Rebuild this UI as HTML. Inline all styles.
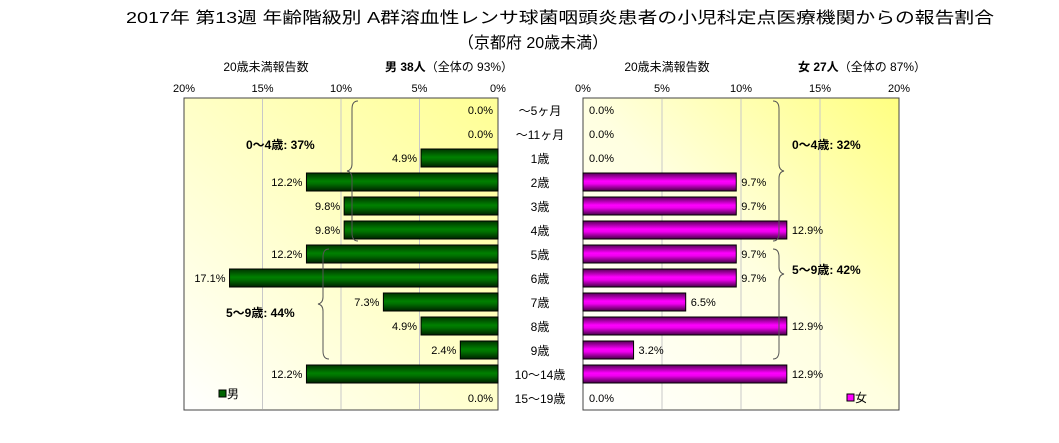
<!DOCTYPE html>
<html><head><meta charset="utf-8"><style>
body{margin:0;background:#fff}
svg{display:block;font-family:"Liberation Sans","Noto Sans CJK JP",sans-serif}
</style></head><body>
<svg id="c" width="1059" height="443" viewBox="0 0 1059 443">
<defs>
<linearGradient id="bgL" x1="0" y1="1" x2="0.9" y2="0"><stop offset="0" stop-color="#ffffff"/><stop offset="1" stop-color="#ffff99"/></linearGradient>
<linearGradient id="bgR" x1="0" y1="1" x2="1" y2="0"><stop offset="0" stop-color="#ffffff"/><stop offset="0.5" stop-color="#ffffe0"/><stop offset="1" stop-color="#ffff80"/></linearGradient>
<linearGradient id="gM" x1="0" y1="0" x2="0" y2="1"><stop offset="0" stop-color="#003300"/><stop offset="0.45" stop-color="#008000"/><stop offset="0.6" stop-color="#007000"/><stop offset="1" stop-color="#002200"/></linearGradient>
<linearGradient id="gF" x1="0" y1="0" x2="0" y2="1"><stop offset="0" stop-color="#550055"/><stop offset="0.45" stop-color="#ff00ff"/><stop offset="0.6" stop-color="#ee00ee"/><stop offset="1" stop-color="#440044"/></linearGradient>
</defs>
<text x="560" y="23" text-anchor="middle" font-size="16" textLength="868" lengthAdjust="spacingAndGlyphs">2017年 第13週 年齢階級別 A群溶血性レンサ球菌咽頭炎患者の小児科定点医療機関からの報告割合</text>
<text x="533" y="48" text-anchor="middle" font-size="16">（京都府 20歳未満）</text>
<text x="266" y="71" text-anchor="middle" font-size="12">20歳未満報告数</text>
<text x="385" y="71" font-size="12"><tspan font-weight="bold">男 38人</tspan>（全体の 93%）</text>
<text x="667" y="71" text-anchor="middle" font-size="12">20歳未満報告数</text>
<text x="798" y="71" font-size="12"><tspan font-weight="bold">女 27人</tspan>（全体の 87%）</text>
<rect x="184" y="98" width="314" height="312" fill="url(#bgL)" stroke="#444"/>
<rect x="583" y="98" width="316" height="312" fill="url(#bgR)" stroke="#444"/>
<g id="grid"></g><g id="bars"></g><g id="labels"></g>
<g fill="none" stroke="#555" stroke-width="1">
<path d="M358 101 q-6 0 -6 8 v55 q0 6 -5 7 q5 1 5 7 v55 q0 8 6 8"/>
<path d="M329 249 q-6 0 -6 8 v40 q0 6 -5 7 q5 1 5 7 v40 q0 8 6 8"/>
<path d="M773 101 q6 0 6 8 v55 q0 6 5 7 q-5 1 -5 7 v55 q0 8 -6 8"/>
<path d="M773 249 q6 0 6 8 v10 q0 6 5 7 q-5 1 -5 7 v70 q0 8 -6 8"/>
</g>
<text x="246" y="149" font-size="12" font-weight="bold">0〜4歳: 37%</text>
<text x="226" y="317" font-size="12" font-weight="bold">5〜9歳: 44%</text>
<text x="792" y="149" font-size="12" font-weight="bold">0〜4歳: 32%</text>
<text x="792" y="274" font-size="12" font-weight="bold">5〜9歳: 42%</text>
<g><rect x="219" y="390" width="7" height="7" fill="#006400" stroke="#000"/><text x="227" y="398" font-size="12">男</text></g>
<g><rect x="847" y="394" width="7" height="7" fill="#ff00ff" stroke="#000"/><text x="855" y="402" font-size="12">女</text></g>
</svg>
<script>
const categories=["〜5ヶ月","〜11ヶ月","1歳","2歳","3歳","4歳","5歳","6歳","7歳","8歳","9歳","10〜14歳","15〜19歳"];
const maleValues=[0,0,4.9,12.2,9.8,9.8,12.2,17.1,7.3,4.9,2.4,12.2,0];
const femaleValues=[0,0,0,9.7,9.7,12.9,9.7,9.7,6.5,12.9,3.2,12.9,0];
const tickValues=[0,5,10,15,20];
const NS="http://www.w3.org/2000/svg";
const top0=98,rowH=24;
const xM=v=>498-v*15.7, xF=v=>583+v*15.8, yRow=i=>top0+i*rowH;
function mk(tag,attrs,parent,txt){const e=document.createElementNS(NS,tag);for(const k in attrs)e.setAttribute(k,attrs[k]);if(txt!==undefined)e.textContent=txt;document.getElementById(parent).appendChild(e);return e;}
tickValues.forEach(t=>{
  if(t>0&&t<20){
    const g1=mk('line',{x1:xM(t),x2:xM(t),y1:99,y2:409,stroke:'#c8c8c8'},'grid');
    
    
    const g2=mk('line',{x1:xF(t),x2:xF(t),y1:99,y2:409,stroke:'#c8c8c8'},'grid');
    
    
  }
  const a=mk('text',{x:xM(t),y:92,'text-anchor':'middle','font-size':11},'labels',t+'%');
  
  
  const b=mk('text',{x:xF(t),y:92,'text-anchor':'middle','font-size':11},'labels',t+'%');
  
  
});
categories.forEach((c,i)=>{
  const y=yRow(i), cy=y+rowH/2;
  const cl=mk('text',{x:540,y:cy+5,'text-anchor':'middle','font-size':12},'labels',c);
  
  
  const m=maleValues[i], f=femaleValues[i];
  if(m>0){
    const r=mk('rect',{x:xM(m),y:y+3,width:xM(0)-xM(m),height:18,fill:'url(#gM)',stroke:'#000'},'bars');
    
    
  }
  const ml=mk('text',{x:m>0?xM(m)-4:493,y:cy+4,'text-anchor':'end','font-size':11},'labels',m.toFixed(1)+'%');
  
  
  if(f>0){
    const r=mk('rect',{x:xF(0),y:y+3,width:xF(f)-xF(0),height:18,fill:'url(#gF)',stroke:'#000'},'bars');
    
    
  }
  const fl=mk('text',{x:f>0?xF(f)+5:589,y:cy+4,'font-size':11},'labels',f.toFixed(1)+'%');
  
  
});
</script>
</body></html>
